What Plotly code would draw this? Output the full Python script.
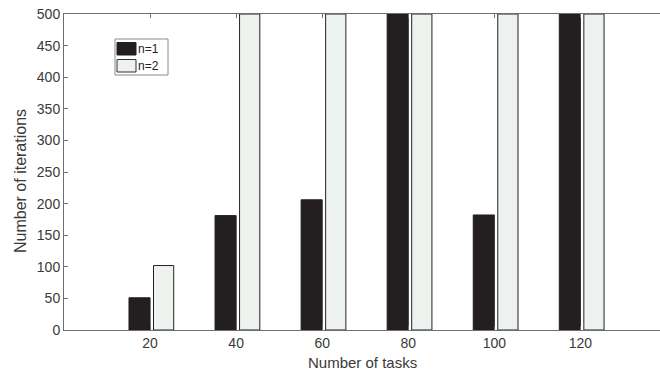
import plotly.graph_objects as go

tasks = [20, 40, 60, 80, 100, 120]
n1_iters = [51, 181, 206, 500, 182, 500]
n2_iters = [102, 500, 500, 500, 500, 500]
tick_vals = [20, 40, 60, 80, 100, 120]
tick_text = ["20", "40", "60", "80", "100", "120"]
y_ticks = [0, 50, 100, 150, 200, 250, 300, 350, 400, 450, 500]

DARK = "#231f20"
LIGHT = "#eef2ef"
AXIS = "#6e6e6e"
TEXT = "#3a3a3a"
W, H = 660, 374
L, R, T, B = 64, 0, 14, 44

fig = go.Figure()
fig.add_trace(go.Bar(x=tasks, y=n1_iters, name="n=1", offset=-4.9, width=4.9,
                     marker=dict(color=DARK, line=dict(color=DARK, width=1))))
fig.add_trace(go.Bar(x=tasks, y=n2_iters, name="n=2", offset=0.8, width=4.7,
                     marker=dict(color=LIGHT, line=dict(color="#222222", width=1))))

pw = W - L - R
ph = H - T - B
def px(x):
    return (x - L) / pw
def py(y):
    return 1 - (y - T) / ph

shapes = [
    dict(type="rect", xref="paper", yref="paper", x0=px(115), x1=px(168), y0=py(75), y1=py(39),
         line=dict(color="#8a8a8a", width=1), fillcolor="white", layer="above"),
    dict(type="rect", xref="paper", yref="paper", x0=px(117), x1=px(136), y0=py(55), y1=py(42.5),
         line=dict(color=DARK, width=1), fillcolor=DARK, layer="above"),
    dict(type="rect", xref="paper", yref="paper", x0=px(117), x1=px(136), y0=py(72), y1=py(59.5),
         line=dict(color="#333333", width=1), fillcolor=LIGHT, layer="above"),
]
annotations = [
    dict(xref="paper", yref="paper", x=px(136), y=py(49), text="n=1", showarrow=False,
         xanchor="left", yanchor="middle", font=dict(size=12, color="#222222")),
    dict(xref="paper", yref="paper", x=px(136), y=py(66), text="n=2", showarrow=False,
         xanchor="left", yanchor="middle", font=dict(size=12, color="#222222")),
    dict(xref="paper", yref="paper", x=px(20) , y=py(181), text="Number of iterations",
         showarrow=False, textangle=-90, xanchor="center", yanchor="middle",
         font=dict(size=16, color=TEXT)),
    dict(xref="paper", yref="paper", x=px(362), y=py(363), text="Number of tasks",
         showarrow=False, xanchor="center", yanchor="middle",
         font=dict(size=15, color=TEXT)),
]

fig.update_layout(
    width=W, height=H,
    margin=dict(l=L, r=R, t=T, b=B),
    paper_bgcolor="white", plot_bgcolor="white",
    barmode="overlay", showlegend=False,
    font=dict(family="Liberation Sans, Arial, sans-serif", size=14, color=TEXT),
    shapes=shapes, annotations=annotations,
    xaxis=dict(range=[0, 138.5], tickvals=tick_vals, ticktext=tick_text,
               ticks="inside", ticklen=4, tickcolor=AXIS, showgrid=False, zeroline=False,
               showline=True, linecolor=AXIS, linewidth=1, mirror="ticks",
               tickfont=dict(size=14, color=TEXT)),
    yaxis=dict(range=[0, 500], tickvals=y_ticks, showgrid=False, zeroline=False,
               showline=True, linecolor=AXIS, linewidth=1, mirror=True,
               ticks="inside", ticklen=4, tickcolor=AXIS,
               tickfont=dict(size=14, color=TEXT)),
)

fig.write_html("out.html")
